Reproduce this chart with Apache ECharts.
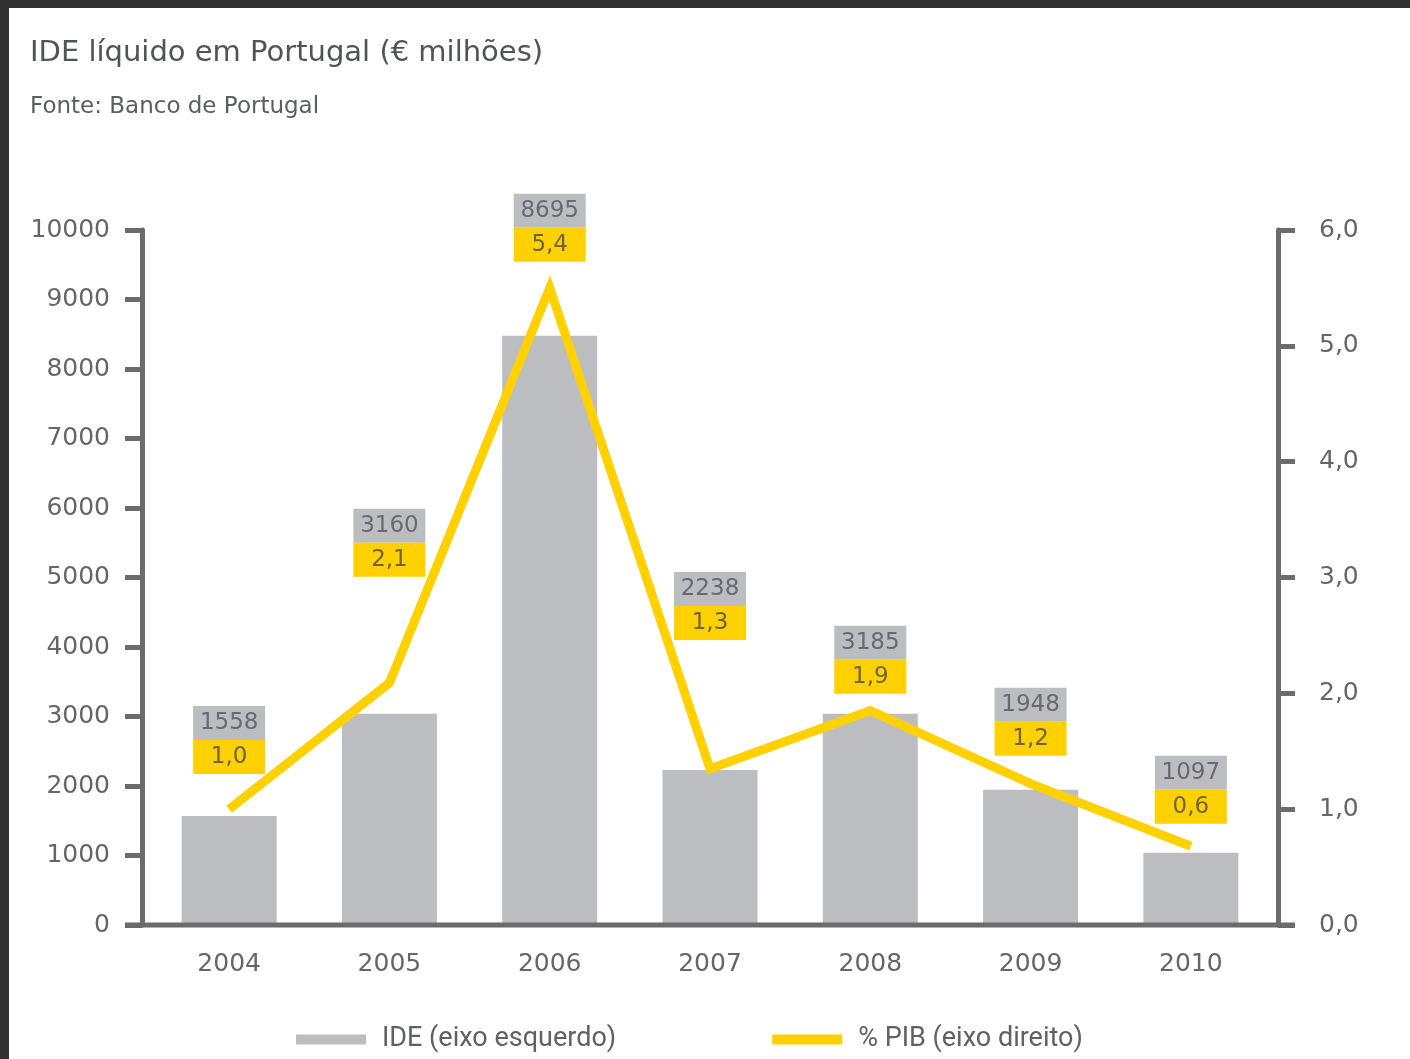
<!DOCTYPE html>
<html>
<head>
<meta charset="utf-8">
<title>IDE líquido em Portugal</title>
<script src="https://cdn.jsdelivr.net/npm/echarts@6/dist/echarts.min.js"></script>
<style>
  html, body { margin: 0; padding: 0; background: #fff; }
  #chart { position: absolute; left: 0; top: 0; width: 1410px; height: 1059px; }
  .frame { position: absolute; background: #323232; z-index: 5; }
</style>
</head>
<body>
<div id="chart"></div>
<div class="frame" style="left:0;top:0;width:1410px;height:8px"></div>
<div class="frame" style="left:0;top:0;width:9px;height:1059px"></div>
<script>
// data
const years = ['2004', '2005', '2006', '2007', '2008', '2009', '2010']
const ideBars = [1570, 3040, 8480, 2230, 3040, 1945, 1040]   // bar heights as drawn (€ milhões)
const pibLine = [1.0, 2.09, 5.5, 1.35, 1.85, 1.22, 0.68]      // line as drawn (% PIB)
const ideLabels = ['1558', '3160', '8695', '2238', '3185', '1948', '1097']
const pibLabels = ['1,0', '2,1', '5,4', '1,3', '1,9', '1,2', '0,6']

const grey = '#bcbdc0'
const yellow = '#ffd100'
const axisGrey = '#6b6b6b'
const txt = '#666'
const numFont = 'DejaVu Sans'

// label lift above each bar (px), the boxes were hand placed in the original
const labelGap = [42, 137, 74, 130, 20, 34, 29]

const chart = echarts.init(document.getElementById('chart'), null, { renderer: 'canvas' })

const barData = ideBars.map((v, i) => ({
  value: v,
  label: {
    distance: labelGap[i],
    formatter: '{g|' + ideLabels[i] + '}\n{y|' + pibLabels[i] + '}'
  }
}))

chart.setOption({
  animation: false,
  backgroundColor: 'transparent',
  title: [
    {
      text: 'IDE líquido em Portugal (€ milhões)',
      left: 25,
      top: 34,
      textStyle: { fontFamily: 'DejaVu Sans', fontSize: 29, fontWeight: 'normal', color: '#505358' }
    },
    {
      text: 'Fonte: Banco de Portugal',
      left: 25,
      top: 91,
      textStyle: { fontFamily: 'DejaVu Sans', fontSize: 23, fontWeight: 'normal', color: '#5a5d62' }
    }
  ],
  legend: {
    left: 291,
    top: 1021,
    itemWidth: 70,
    itemHeight: 10,
    itemGap: 156,
    textStyle: {
      fontFamily: 'Roboto',
      fontSize: 27,
      color: '#5f6167',
      padding: [0, 0, 0, 11]
    },
    data: [
      { name: 'IDE (eixo esquerdo)', icon: 'rect' },
      { name: '% PIB (eixo direito)', icon: 'rect' }
    ]
  },
  grid: {
    left: 149,
    right: 139,
    top: 230,
    bottom: 134
  },
  xAxis: {
    type: 'category',
    data: years,
    axisLine: { show: false },
    axisTick: { show: false },
    axisLabel: {
      margin: 27,
      fontFamily: numFont,
      fontSize: 25,
      color: txt
    }
  },
  yAxis: [
    {
      type: 'value',
      min: 0,
      max: 10000,
      interval: 1000,
      offset: 7,
      axisLine: { show: true, lineStyle: { color: axisGrey, width: 5 } },
      axisTick: { show: true, length: 17, lineStyle: { color: axisGrey, width: 5 } },
      splitLine: { show: false },
      axisLabel: {
        margin: 32,
        fontFamily: numFont,
        fontSize: 25,
        color: txt,
        formatter: function (v) {
          return String(v)
        }
      }
    },
    {
      type: 'value',
      min: 0,
      max: 6,
      interval: 1,
      offset: 7,
      position: 'right',
      axisLine: { show: true, lineStyle: { color: axisGrey, width: 5 } },
      axisTick: { show: true, length: 17, lineStyle: { color: axisGrey, width: 5 } },
      splitLine: { show: false },
      axisLabel: {
        margin: 41,
        fontFamily: numFont,
        fontSize: 25,
        color: txt,
        formatter: function (v) {
          return v.toFixed(1).replace('.', ',')
        }
      }
    }
  ],
  series: [
    {
      name: 'IDE (eixo esquerdo)',
      type: 'bar',
      barWidth: 95,
      yAxisIndex: 0,
      itemStyle: { color: grey },
      label: {
        show: true,
        position: 'top',
        rich: {
          g: {
            backgroundColor: grey,
            width: 72,
            height: 34,
            lineHeight: 34,
            align: 'center',
            fontFamily: numFont,
            fontSize: 23,
            color: '#676a73'
          },
          y: {
            backgroundColor: yellow,
            width: 72,
            height: 34,
            lineHeight: 34,
            align: 'center',
            fontFamily: numFont,
            fontSize: 23,
            color: '#6c6442'
          }
        }
      },
      data: barData
    },
    {
      name: '% PIB (eixo direito)',
      type: 'line',
      yAxisIndex: 1,
      symbol: 'none',
      itemStyle: { color: yellow },
      lineStyle: { color: yellow, width: 9, join: 'miter', cap: 'butt' },
      data: pibLine
    }
  ]
})

// baseline running from the left tick to the right tick, like the original
const y0 = chart.convertToPixel({ yAxisIndex: 0 }, 0)
const gridLeft = chart.convertToPixel({ xAxisIndex: 0 }, years[0]) - 80.2
const gridRight = chart.convertToPixel({ xAxisIndex: 0 }, years[years.length - 1]) + 80.2
chart.setOption({
  graphic: [
    {
      type: 'rect',
      z: 10,
      shape: { x: gridLeft - 7 - 17, y: y0 - 2.5, width: gridRight - gridLeft + 2 * (7 + 17), height: 5 },
      style: { fill: axisGrey }
    }
  ]
})
</script>
</body>
</html>
